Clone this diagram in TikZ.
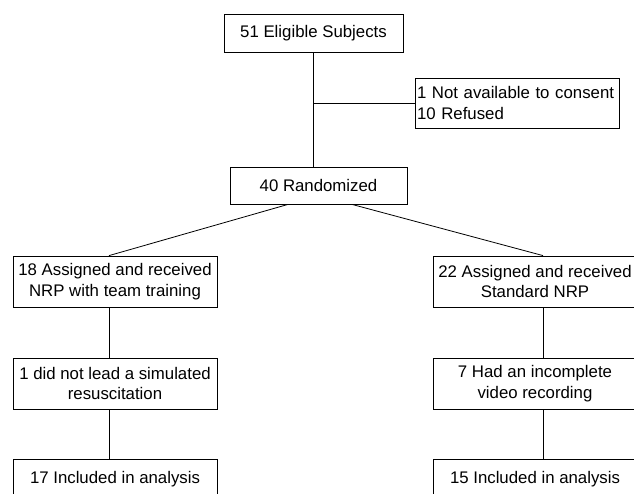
\documentclass[tikz,border=0pt]{standalone}
\usepackage{fontspec}
\setmainfont{Liberation Sans}
\usepackage{tikz}
\usetikzlibrary{positioning, calc}

\begin{document}
\begin{tikzpicture}[x=1pt, y=-1pt, line width=0.8pt,
  every node/.style={font=\fontsize{16.8}{20.4}\selectfont, draw, inner sep=0pt, align=center},
  onebox/.style={minimum width=179pt, minimum height=38pt},
  twobox/.style={minimum width=204pt, minimum height=51pt}]
\useasboundingbox (0,0) rectangle (634,493);
\clip (0,0) rectangle (634,493);
\node[onebox] (elig) at (313.5,33) {51 Eligible Subjects};
\node[twobox, minimum height=50pt, text width=200pt, inner xsep=2pt, align=left] (excl) at (517,103) {1 Not available to consent\\10 Refused};
\node[onebox, minimum width=177pt, minimum height=37pt] (rand) at (318.5,185.5) {40 Randomized};
\node[twobox] (team) at (115,281.5) {18 Assigned and received\\NRP with team training};
\node[twobox] (std) at (535,281.5) {22 Assigned and received\\Standard NRP};
\node[twobox] (teamlost) at (115,383.5) {1 did not lead a simulated\\resuscitation};
\node[twobox] (stdlost) at (535,383.5) {7 Had an incomplete\\video recording};
\node[twobox, minimum height=40pt] (teamfin) at (115,479.5) {17 Included in analysis};
\node[twobox, minimum height=40pt] (stdfin) at (535,479.5) {15 Included in analysis};
% flow lines
\draw (elig.south) -- (elig.south |- rand.north);
\draw (elig.south |- excl.west) -- (excl.west);
\draw ([xshift=-30.5pt]rand.south) -- ([xshift=-6pt]team.north);
\draw ([xshift=33.5pt]rand.south) -- ([xshift=8pt]std.north);
\draw ([xshift=-6pt]team.south) -- ([xshift=-6pt]teamlost.north);
\draw ([xshift=-6pt]teamlost.south) -- ([xshift=-6pt]teamfin.north);
\draw ([xshift=8pt]std.south) -- ([xshift=8pt]stdlost.north);
\draw ([xshift=8pt]stdlost.south) -- ([xshift=8pt]stdfin.north);
\end{tikzpicture}
\end{document}
